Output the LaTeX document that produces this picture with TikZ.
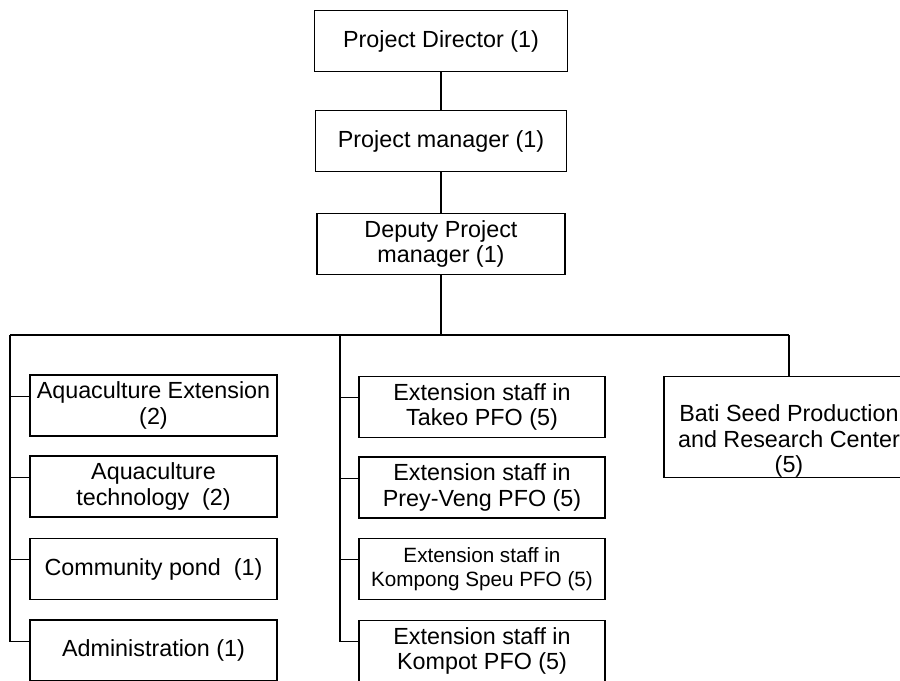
\documentclass[tikz,border=0pt]{standalone}
\usepackage{fontspec}
\setmainfont{Liberation Sans}

\begin{document}
\begin{tikzpicture}[x=0.75pt,y=-0.75pt,
    staffbox/.style={draw,line width=1.1pt,align=center,inner xsep=2pt,
        minimum width=185pt,minimum height=46pt,
        font=\fontsize{17.5}{19}\selectfont},
    smalltext/.style={font=\fontsize{15.5}{18}\selectfont},
    link/.style={line width=0.9pt}]
    \useasboundingbox (0,0) rectangle (900,681);
    % Top: director, manager, deputy
    \node[staffbox,minimum width=190pt] (director) at (441,41) {Project Director (1)};
    \node[staffbox,minimum width=188pt] (manager) at (441,141) {Project manager (1)};
    \node[staffbox,minimum width=186pt] (deputy) at (441,244) {Deputy Project\\manager (1)};
    \draw[link] (director.south) -- (manager.north);
    \draw[link] (manager.south) -- (deputy.north);
    % Bus under the deputy
    \coordinate (busL) at (10,335);
    \coordinate (busM) at (340,335);
    \coordinate (busR) at (789,335);
    \draw[link] (deputy.south) -- (deputy.south |- busL);
    \draw[link] (busL) -- (busR);
    % Column 1
    \node[staffbox] (aqext) at (153.5,405.5) {Aquaculture Extension\\(2)};
    \node[staffbox] (aqtech) at (153.5,486.5) {Aquaculture\\technology~ (2)};
    \node[staffbox] (pond) at (153.5,569) {Community pond~ (1)};
    \node[staffbox] (admin) at (153.5,650.5) {Administration (1)};
    \foreach \b in {aqext,aqtech,pond,admin}
        \draw[link] ([yshift=7pt]\b.west) -| (busL);
    % Column 2
    \node[staffbox,minimum width=184.5pt] (takeo) at (482,407) {Extension staff in\\Takeo PFO (5)};
    \node[staffbox,minimum width=184.5pt] (preyveng) at (482,487.5) {Extension staff in\\Prey-Veng PFO (5)};
    \node[staffbox,smalltext,minimum width=184.5pt] (speu) at (482,569) {Extension staff in\\Kompong Speu PFO (5)};
    \node[staffbox,minimum width=184.5pt] (kompot) at (482,651) {Extension staff in\\Kompot PFO (5)};
    \foreach \b in {takeo,preyveng,speu,kompot}
        \draw[link] ([yshift=7pt]\b.west) -| (busM);
    % Column 3
    \node[staffbox,minimum width=187.5pt,minimum height=75pt,inner ysep=0pt] (bati) at (789,427)
        {\rule{0pt}{34pt}Bati Seed Production\\and Research Center\\(5)};
    \draw[link] (busR) -- (bati.north);
\end{tikzpicture}
\end{document}
